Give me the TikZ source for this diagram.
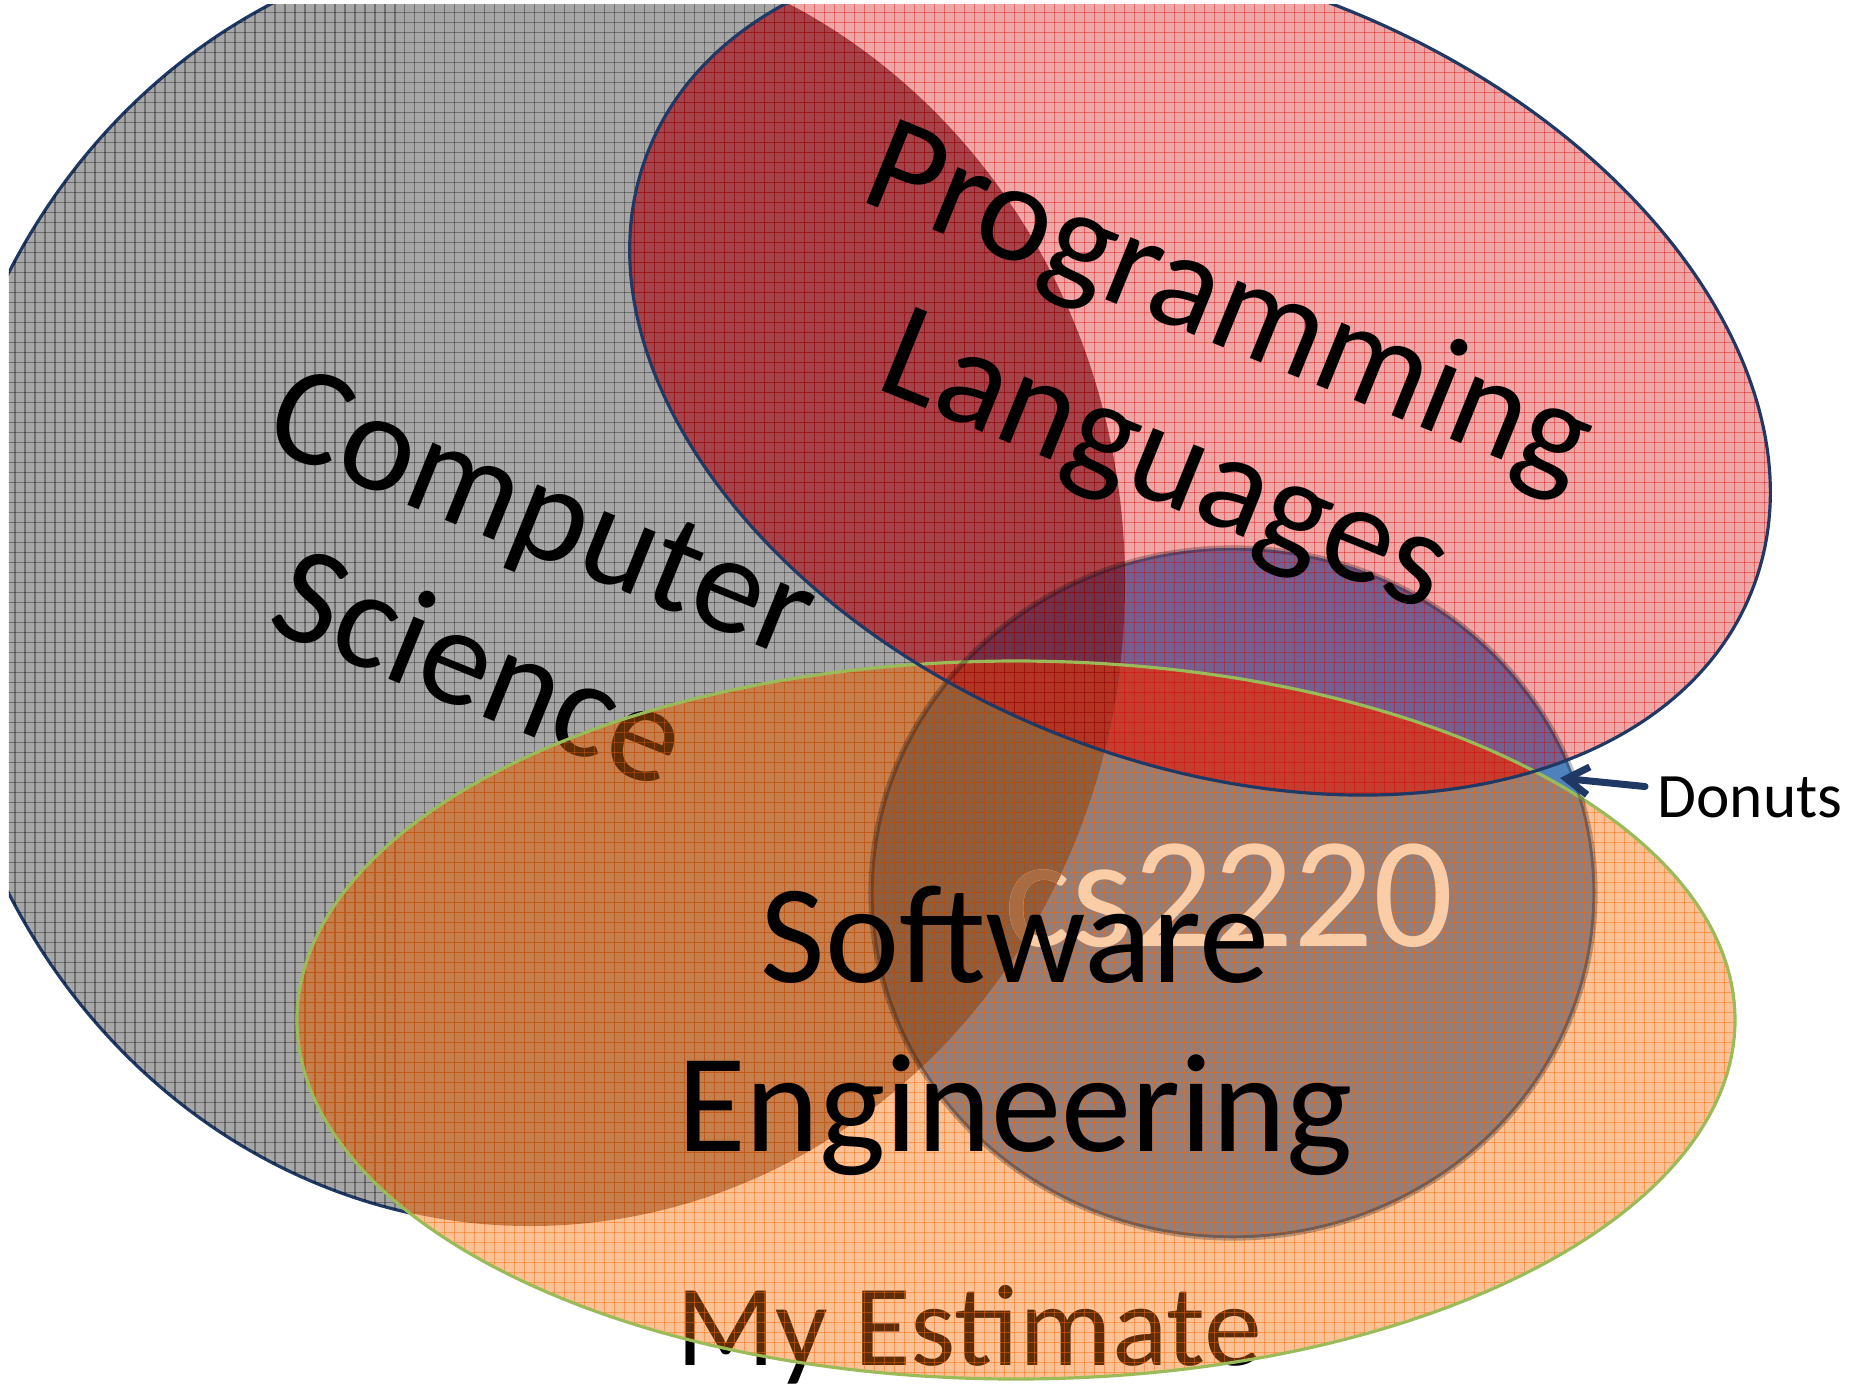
\documentclass[tikz,border=0pt]{standalone}
\usepackage{fontspec}
\setmainfont{Carlito}
\usetikzlibrary{arrows.meta}

\definecolor{navy}{HTML}{1F3864}
\definecolor{leaf}{HTML}{9BBB59}
\definecolor{csgray}{HTML}{A6A6A6}
\definecolor{plpink}{HTML}{EFA6A6}
\definecolor{estpeach}{HTML}{FAC296}
\definecolor{seblue}{HTML}{4F81BD}
\definecolor{gr}{HTML}{A6434A}
\definecolor{go}{HTML}{C77E4D}
\definecolor{so}{HTML}{937E7A}
\definecolor{rs}{HTML}{745F91}
\definecolor{ro}{HTML}{C63C2E}
\definecolor{rso}{HTML}{C63C2E}
\definecolor{gro}{HTML}{C44838}
\definecolor{gs}{HTML}{606B80}
\definecolor{gso}{HTML}{8E5E41}
\definecolor{grs}{HTML}{71314B}
\definecolor{grso}{HTML}{B43424}
\definecolor{brownink}{HTML}{5C2D0A}
\definecolor{peachink}{HTML}{FBCDA6}

\newcommand\csarea{(5.30,8.04) ellipse [x radius=5.95, y radius=6.43]}
\newcommand\plarea{(12.00,10.16) ellipse [x radius=5.94, y radius=3.90, rotate=-21.8]}
\newcommand\searea{(12.33,4.94) ellipse [x radius=3.62, y radius=3.45]}
\newcommand\estarea{(10.16,3.67) ellipse [x radius=7.19, y radius=3.59]}

\newcommand\gridlines[1]{%
  \foreach \x in {0.05,0.15,...,18.7} \draw[#1] (\x,0) -- (\x,13.9);
  \foreach \y in {0.05,0.15,...,13.9} \draw[#1] (0,\y) -- (18.7,\y);}

\tikzset{
  bigtext/.style={font=\fontsize{40}{48}\selectfont, align=center},
  esttext/.style={font=\fontsize{33}{40}\selectfont, anchor=base},
  coursetext/.style={font=\fontsize{45}{54}\selectfont, anchor=base},
  gridline/.style={line width=0.3pt, opacity=#1},
}

\begin{document}
\begin{tikzpicture}
  \useasboundingbox (0,0) rectangle (18.66,13.87);
  \clip (0.09,0) rectangle (18.66,13.82);

  \fill[csgray] \csarea;
  \draw[navy, line width=0.9pt] \csarea;
  \node[bigtext, rotate=-22] (cs) at (5.12,7.98) {Computer\\Science};
  \node[esttext] (est) at (9.69,0.22) {My Estimate};

  \fill[plpink] \plarea;
  \fill[estpeach] \estarea;
  \fill[seblue] \searea;
  \begin{scope}
    \clip \csarea;
    \fill[gr] \plarea;
    \fill[go] \estarea;
  \end{scope}
  \begin{scope}
    \clip \searea;
    \fill[so] \estarea;
    \fill[rs] \plarea;
  \end{scope}
  \begin{scope}
    \clip \plarea;
    \fill[ro] \estarea;
    \clip \searea;
    \fill[rso] \estarea;
  \end{scope}
  \begin{scope}
    \clip \csarea;
    \clip \plarea;
    \fill[gro] \estarea;
  \end{scope}
  \begin{scope}
    \clip \csarea;
    \clip \searea;
    \fill[gs] \searea;
    \fill[gso] \estarea;
    \fill[grs] \plarea;
    \clip \plarea;
    \fill[grso] \estarea;
  \end{scope}

  \begin{scope}
    \clip \estarea;
    \node[bigtext, rotate=-22, text=brownink] at (cs) {Computer\\Science};
    \node[esttext, text=brownink] at (est.base) {My Estimate};
  \end{scope}
  \begin{scope}
    \clip \plarea;
    \node[bigtext, rotate=-22, text=gr!70!black] at (cs) {Computer\\Science};
  \end{scope}

  \begin{scope}
    \clip \csarea;
    \gridlines{gridline=0.32, black}
  \end{scope}
  \begin{scope}[even odd rule]
    \clip \estarea;
    \clip (0,0) rectangle (18.7,13.9) \plarea;
    \gridlines{gridline=0.45, orange!80!red}
  \end{scope}
  \begin{scope}
    \clip \plarea;
    \gridlines{gridline=0.38, red!85!black}
  \end{scope}

  \draw[leaf, line width=0.9pt] \estarea;
  \draw[black, opacity=0.25, line width=1.5pt] \searea;
  \draw[navy, line width=0.9pt] \plarea;

  \node[coursetext, text=peachink] (course) at (12.29,4.41) {cs2220};
  \begin{scope}
    \clip \csarea;
    \node[coursetext, text=go!85!black] at (course.base) {cs2220};
  \end{scope}
  \node[bigtext] (se) at (10.15,3.56) {Software\\Engineering};
  \node[bigtext, rotate=-22] (pl) at (11.96,9.99) {Programming\\Languages};

  \coordinate (donut) at (15.60,6.09);
  \node[font=\fontsize{18}{22}\selectfont, anchor=west, inner sep=1.2mm] (donuts) at (16.45,5.90) {Donuts};
  \draw[navy, line width=2pt, line cap=round, -{Straight Barb[length=2.2mm, width=2.8mm]}] (donuts) -- (donut);
\end{tikzpicture}
\end{document}
